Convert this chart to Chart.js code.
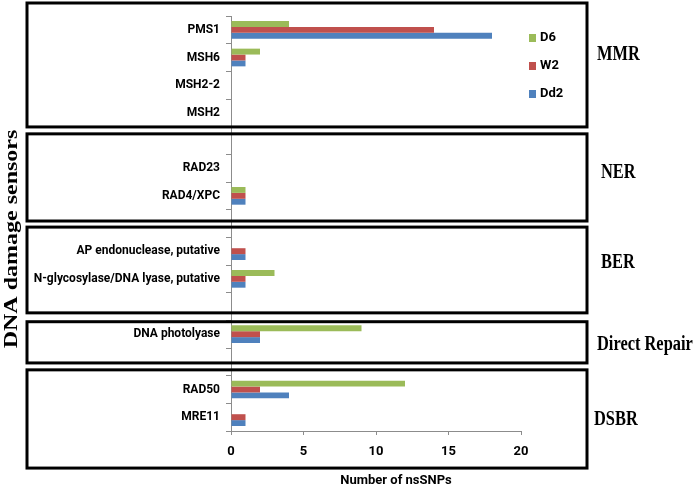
<!DOCTYPE html>
<html>
<head>
<meta charset="utf-8">
<script src="https://cdn.jsdelivr.net/npm/chart.js@4.4.1/dist/chart.umd.min.js"></script>
<style>
html, body { margin: 0; padding: 0; background: #fff; }
</style>
</head>
<body>
<canvas id="barChart" width="697" height="492"></canvas>
<script>
// categories, top to bottom (blank rows separate the repair pathways)
var genes = ['PMS1', 'MSH6', 'MSH2-2', 'MSH2', '', 'RAD23', 'RAD4/XPC', '',
    'AP endonuclease, putative', 'N-glycosylase/DNA lyase, putative', '',
    'DNA photolyase', '', 'RAD50', 'MRE11']
var d6  = [4, 2, 0, 0, null, 0, 1, null, 0, 3, null, 9, null, 12, 0]
var w2  = [14, 1, 0, 0, null, 0, 1, null, 1, 1, null, 2, null, 2, 1]
var dd2 = [18, 1, 0, 0, null, 0, 1, null, 1, 1, null, 2, null, 4, 1]
var seriesNames = ['D6', 'W2', 'Dd2']
var pathways = ['MMR', 'NER', 'BER', 'Direct Repair', 'DSBR']
var xTicks = [0, 5, 10, 15, 20]

var colors = ['#9BBB59', '#C0504D', '#4F81BD']
var labelFont = 'Roboto, "Liberation Sans", sans-serif'

// panel boxes and pathway labels, in category-index units
var boxSpans = [[-0.97, 3.51], [3.76, 6.91], [7.13, 10.23], [10.55, 12.04], [12.29, 15.84]]
var pathwayPos = [0.91, 5.17, 8.43, 11.39, 14.1]
var pathwayX = [597, 601, 601, 597, 594]

var panelPlugin = {
    id: 'panels',
    afterDraw: function (chart) {
        var ctx = chart.ctx
        var y = chart.scales.y
        var area = chart.chartArea
        ctx.save()
        // boxes round each pathway
        ctx.strokeStyle = '#000'
        ctx.lineWidth = 3
        boxSpans.forEach(function (s) {
            var top = y.getPixelForValue(s[0])
            var bot = y.getPixelForValue(s[1])
            ctx.strokeRect(27, top, 560, bot - top)
        })
        // pathway names on the right
        ctx.fillStyle = '#000'
        ctx.textBaseline = 'middle'
        ctx.textAlign = 'left'
        ctx.font = 'bold 20px "Liberation Serif", "Times New Roman", serif'
        pathways.forEach(function (name, i) {
            ctx.save()
            ctx.translate(pathwayX[i], y.getPixelForValue(pathwayPos[i]))
            ctx.scale(0.82, 1)
            ctx.fillText(name, 0, 0)
            ctx.restore()
        })
        // y title
        ctx.save()
        ctx.translate(12, 239)
        ctx.rotate(-Math.PI / 2)
        ctx.scale(1, 0.8)
        ctx.textAlign = 'center'
        ctx.font = 'bold 24px "Liberation Serif", "Times New Roman", serif'
        ctx.fillText('DNA damage sensors', 0, 0)
        ctx.restore()
        // x title
        ctx.textAlign = 'center'
        ctx.font = 'bold 13px ' + labelFont
        ctx.fillText('Number of nsSNPs', 396, 481)
        // legend inside the top panel
        ctx.textAlign = 'left'
        chart.data.datasets.forEach(function (ds, i) {
            var ly = area.top + 22 + i * 28
            ctx.fillStyle = ds.backgroundColor
            ctx.fillRect(529, ly - 4, 7, 8)
            ctx.fillStyle = '#000'
            ctx.fillText(ds.label, 540, ly)
        })
        ctx.restore()
    }
}

var barCanvas = document.getElementById('barChart').getContext('2d')
new Chart(barCanvas, {
    type: 'bar',
    data: {
        labels: genes,
        datasets: [
            { label: seriesNames[0], data: d6, backgroundColor: colors[0] },
            { label: seriesNames[1], data: w2, backgroundColor: colors[1] },
            { label: seriesNames[2], data: dd2, backgroundColor: colors[2] }
        ]
    },
    options: {
        indexAxis: 'y',
        responsive: false,
        animation: false,
        devicePixelRatio: 1,
        categoryPercentage: 0.64,
        barPercentage: 1.0,
        layout: { padding: { top: 16, right: 176, left: 0, bottom: 0 } },
        plugins: {
            legend: { display: false },
            tooltip: { enabled: false }
        },
        scales: {
            x: {
                min: xTicks[0],
                max: xTicks[xTicks.length - 1],
                afterBuildTicks: function (scale) {
                    scale.ticks = xTicks.map(function (v) { return { value: v } })
                },
                afterFit: function (scale) { scale.height = 61 },
                grid: { drawOnChartArea: false, tickLength: 4, color: '#8c8c8c' },
                border: { color: '#8c8c8c' },
                ticks: { color: '#000', padding: 9, font: { family: labelFont, size: 13, weight: 'bold' } }
            },
            y: {
                afterFit: function (scale) { scale.width = 231 },
                grid: { drawOnChartArea: false, tickLength: 5, color: '#8c8c8c' },
                border: { color: '#8c8c8c' },
                ticks: { color: '#000', padding: 6, autoSkip: false, font: { family: labelFont, size: 12, weight: 'bold' } }
            }
        }
    },
    plugins: [panelPlugin]
})
</script>
</body>
</html>
